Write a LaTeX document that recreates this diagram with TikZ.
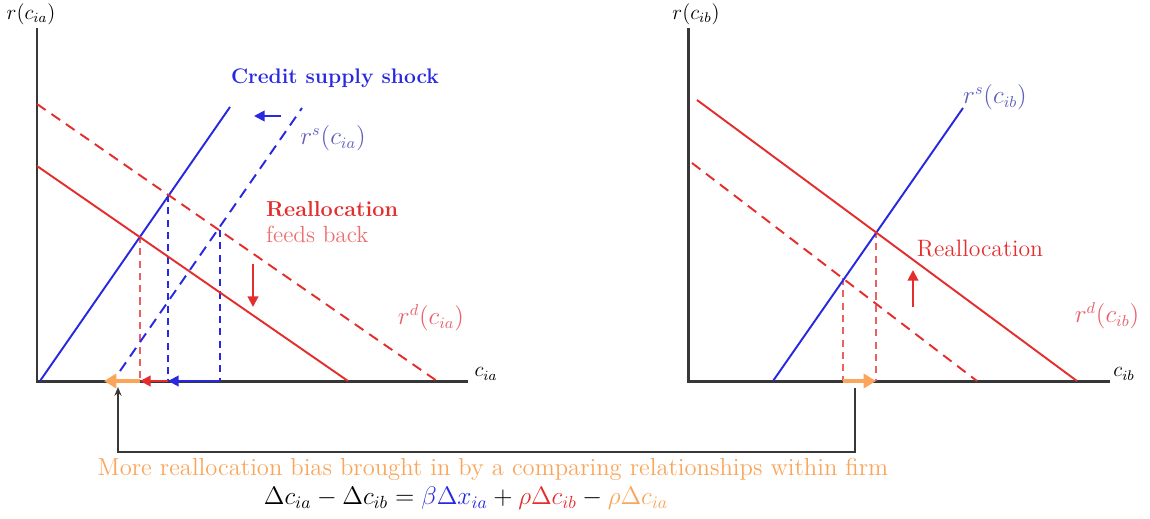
\documentclass[tikz,border=0pt]{standalone}
\usetikzlibrary{arrows.meta}
\definecolor{cblue}{RGB}{40,40,225}
\definecolor{cred}{RGB}{228,45,45}
\definecolor{corange}{RGB}{250,165,90}
\definecolor{caxis}{RGB}{55,55,55}
\definecolor{cslab}{RGB}{95,95,190}
\definecolor{cdlab}{RGB}{232,95,105}
\definecolor{cfeed}{RGB}{238,110,110}
\begin{document}
\begin{tikzpicture}[x=0.02cm,y=-0.02cm,
  axisline/.style={draw=caxis,line width=1.7pt},
  supply/.style={draw=cblue,line width=1.1pt},
  demand/.style={draw=cred,line width=1.1pt},
  guideb/.style={draw=cblue,line width=0.6pt,dash pattern=on 4pt off 3pt},
  guider/.style={draw=cred!75,line width=0.6pt,dash pattern=on 4pt off 3pt},
  shiftb/.style={draw=cblue,line width=1.1pt,-{Triangle[length=6pt,width=6pt]}},
  shiftr/.style={draw=cred,line width=1.1pt,-{Triangle[length=6pt,width=6pt]}},
  shifto/.style={draw=corange,line width=2.2pt,-{Triangle[length=7pt,width=8pt]}},
  lbl/.style={inner sep=1pt},
  axlbl/.style={lbl,font=\fontsize{11.5}{13}\selectfont},
  crvlbl/.style={lbl,font=\fontsize{13.5}{15}\selectfont},
]
\useasboundingbox (0,0) rectangle (1150,518);

% ---------- left panel ----------
\coordinate (lo) at (37,381);
\coordinate (ltop) at (37,28);
\coordinate (lend) at (468,381);
\draw[axisline] (ltop) -- (lo) -- (lend);
\node[axlbl] (ly) at (31,14) {$r(c_{ia})$};
\node[axlbl] (lx) at (486,374) {$c_{ia}$};

\coordinate (ls1) at (40,381);  \coordinate (ls2) at (230,107);
\coordinate (ld1) at (120,371); \coordinate (ld2) at (302,108);
\coordinate (lrd1) at (37,104); \coordinate (lrd2) at (437,381);
\coordinate (lrs1) at (37,166); \coordinate (lrs2) at (348,381);
\coordinate (lA) at (140,236);
\coordinate (lB) at (168,195);
\coordinate (lC) at (220,230);

\draw[guider] (lA) -- (140,381);
\draw[guideb] (lB) -- (168,381);
\draw[guideb] (lC) -- (220,381);

\draw[supply] (ls1) -- (ls2);
\draw[supply,dash pattern=on 6pt off 4pt] (ld1) -- (ld2);
\draw[demand,dash pattern=on 6pt off 4pt] (lrd1) -- (lrd2);
\draw[demand] (lrs1) -- (lrs2);

\draw[shiftb] (281,116) -- (254,116);
\draw[shiftr] (253,264) -- (253,307);

\draw[shiftb] (220,381) -- (168,381);
\draw[shiftr] (168,381) -- (140,381);
\draw[shifto] (140,381) -- (104,381);

\node[lbl,text=cblue,font=\bfseries\fontsize{12}{14}\selectfont] (shock) at (335,78) {Credit supply shock};
\node[crvlbl,text=cslab] (rsa) at (333,138) {$r^{s}(c_{ia})$};
\node[lbl,text=cred,font=\bfseries\fontsize{12.3}{14}\selectfont,anchor=west] (realla) at (264,209) {Reallocation};
\node[lbl,text=cfeed,font=\fontsize{13.3}{15}\selectfont,anchor=west] (feed) at (264,234) {feeds back};
\node[crvlbl,text=cdlab] (rda) at (431,318) {$r^{d}(c_{ia})$};

% ---------- right panel ----------
\coordinate (ro) at (688,381);
\coordinate (rtop) at (688,28);
\coordinate (rend) at (1110,381);
\draw[axisline] (rtop) -- (ro) -- (rend);
\node[axlbl] (ry) at (696,14) {$r(c_{ib})$};
\node[axlbl] (rx) at (1124,374) {$c_{ib}$};

\coordinate (rs1) at (773,381); \coordinate (rs2) at (963,108);
\coordinate (rrs1) at (697,100); \coordinate (rrs2) at (1077,381);
\coordinate (rrd1) at (692,163); \coordinate (rrd2) at (977,381);
\coordinate (rA) at (876,231);
\coordinate (rB) at (843,278);

\draw[guider] (rA) -- (876,381);
\draw[guider] (rB) -- (843,381);

\draw[supply] (rs1) -- (rs2);
\draw[demand] (rrs1) -- (rrs2);
\draw[demand,dash pattern=on 6pt off 4pt] (rrd1) -- (rrd2);

\draw[shiftr] (913,307) -- (913,270);
\draw[shifto] (843,381) -- (876,381);

\node[crvlbl,text=cslab] (rsb) at (995,97) {$r^{s}(c_{ib})$};
\node[lbl,text=cred,font=\fontsize{13.5}{15}\selectfont] (reallb) at (980,249) {Reallocation};
\node[crvlbl,text=cdlab] (rdb) at (1107,316) {$r^{d}(c_{ib})$};

% ---------- feedback connector ----------
\coordinate (fbs) at (855,388);
\coordinate (fbe) at (118,387);
\draw[draw=caxis,line width=0.8pt,-{Stealth[length=5pt,width=4pt]}] (fbs) -- (855,452) -| (fbe);

\node[inner sep=0pt,text=corange,font=\fontsize{14}{16}\selectfont] (bias) at (493,469)
  {More reallocation bias brought in by a comparing relationships within firm};
\node[inner sep=0pt,font=\fontsize{14.5}{17}\selectfont] (eq) at (466,498)
  {$\Delta c_{ia}-\Delta c_{ib}=\textcolor{cblue}{\beta\Delta x_{ia}}+\textcolor{cred}{\rho\Delta c_{ib}}-\textcolor{corange}{\rho\Delta c_{ia}}$};
\end{tikzpicture}
\end{document}
